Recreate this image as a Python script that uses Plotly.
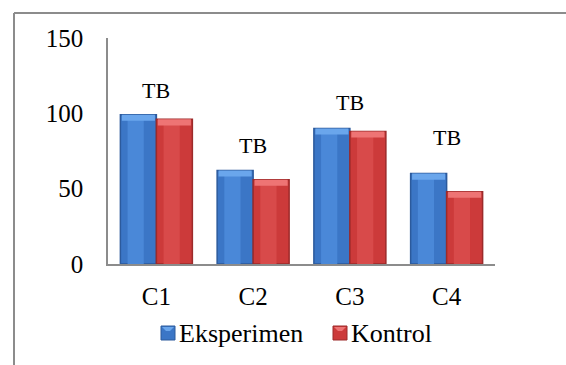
import plotly.graph_objects as go

# Category labels and series values
categories = ["C1", "C2", "C3", "C4"]
eksperimen = [99, 62, 90, 60]
kontrol = [96, 56, 88, 48]
series_names = ["Eksperimen", "Kontrol"]
group_labels = ["TB", "TB", "TB", "TB"]
label_shift = [24, 25, 26, 36]  # px above the taller bar of each group
y_ticks = [0, 50, 100, 150]

W, H = 566, 365
L, R, T, B = 108, 71, 38, 101
plot_w = W - L - R
plot_h = H - T - B

FONT = "Liberation Serif"
AXIS_GREY = "#8c8c8c"

BAR_W = 0.372  # bar width in category units
styles = [
    # offset, edge, body, highlight, cap
    (-BAR_W, "#2c5a9c", "#3b76c6", "#4a88d8", "#6aa6ec"),
    (0.0, "#9c2a2a", "#cc3a3a", "#d84a4a", "#ee7474"),
]

fig = go.Figure()
for name, vals, (off, edge, body, hi, cap) in zip(series_names, [eksperimen, kontrol], styles):
    # full bar (darker edges show at the sides)
    fig.add_trace(go.Bar(
        name=name, x=categories, y=vals, offset=off, width=BAR_W,
        marker=dict(color=body, line=dict(color=edge, width=1.5)),
        showlegend=False, hoverinfo="skip",
    ))
    # lighter inner strip for a rounded look
    fig.add_trace(go.Bar(
        x=categories, y=[v - 3 for v in vals], offset=off + BAR_W * 0.2,
        width=BAR_W * 0.45, marker=dict(color=hi, line=dict(width=0)),
        showlegend=False, hoverinfo="skip",
    ))
    # bevelled top cap
    fig.add_trace(go.Bar(
        x=categories, y=[4] * len(vals), base=[v - 4 for v in vals],
        offset=off + BAR_W * 0.04, width=BAR_W * 0.92,
        marker=dict(color=cap, line=dict(width=0)),
        showlegend=False, hoverinfo="skip",
    ))

# "TB" notes above each group
for cat, a, b, txt, dy in zip(categories, eksperimen, kontrol, group_labels, label_shift):
    fig.add_annotation(
        x=cat, y=max(a, b), text=txt, showarrow=False,
        yanchor="middle", yshift=dy,
        font=dict(family=FONT, size=22, color="black"),
    )


def px_to_paper_x(px):
    return (px - L) / plot_w


def px_to_paper_y(py):
    return (H - B - py) / plot_h


# Outer frame: top and left edges of the chart box
fig.add_shape(type="line", xref="paper", yref="paper",
              x0=px_to_paper_x(14), x1=px_to_paper_x(W + 10),
              y0=px_to_paper_y(13), y1=px_to_paper_y(13),
              line=dict(color=AXIS_GREY, width=2))
fig.add_shape(type="line", xref="paper", yref="paper",
              x0=px_to_paper_x(14), x1=px_to_paper_x(14),
              y0=px_to_paper_y(13), y1=px_to_paper_y(H + 10),
              line=dict(color=AXIS_GREY, width=2))

# Legend row below the axis: coloured key squares followed by series names
legend_key_x = [161, 333]   # left edge of each key square, px
legend_cy = 333             # vertical centre of the legend row, px
KEY = 14
for name, kx, (off, edge, body, hi, cap) in zip(series_names, legend_key_x, styles):
    fig.add_shape(type="rect", xref="paper", yref="paper",
                  x0=px_to_paper_x(kx), x1=px_to_paper_x(kx + KEY),
                  y0=px_to_paper_y(legend_cy + KEY / 2), y1=px_to_paper_y(legend_cy - KEY / 2),
                  fillcolor=body, line=dict(color=edge, width=1))
    fig.add_shape(type="path", xref="paper", yref="paper",
                  path="M {a},{t} L {b},{t} L {c},{m} L {d},{m} Z".format(
                      a=px_to_paper_x(kx + 1), b=px_to_paper_x(kx + KEY - 1),
                      c=px_to_paper_x(kx + KEY - 5), d=px_to_paper_x(kx + 5),
                      t=px_to_paper_y(legend_cy - KEY / 2 + 1),
                      m=px_to_paper_y(legend_cy - KEY / 2 + 5)),
                  fillcolor=cap, line=dict(width=0))
    fig.add_annotation(xref="paper", yref="paper",
                       x=px_to_paper_x(kx + KEY + 2), y=px_to_paper_y(legend_cy),
                       xanchor="left", yanchor="middle", showarrow=False,
                       text=name, font=dict(family=FONT, size=26, color="black"))

fig.update_layout(
    width=W, height=H,
    margin=dict(l=L, r=R, t=T, b=B),
    paper_bgcolor="white", plot_bgcolor="white",
    barmode="overlay",
    font=dict(family=FONT, size=25, color="black"),
    showlegend=False,
    xaxis=dict(
        showline=True, linecolor=AXIS_GREY, linewidth=2,
        showgrid=False, ticks="", ticklabelstandoff=9,
        tickfont=dict(family=FONT, size=25),
    ),
    yaxis=dict(
        range=[0, 150], tickvals=y_ticks,
        showline=True, linecolor=AXIS_GREY, linewidth=1.5,
        showgrid=False, zeroline=False, ticks="", ticklabelstandoff=18,
        tickfont=dict(family=FONT, size=25),
    ),
)

fig.write_html("out.html")
